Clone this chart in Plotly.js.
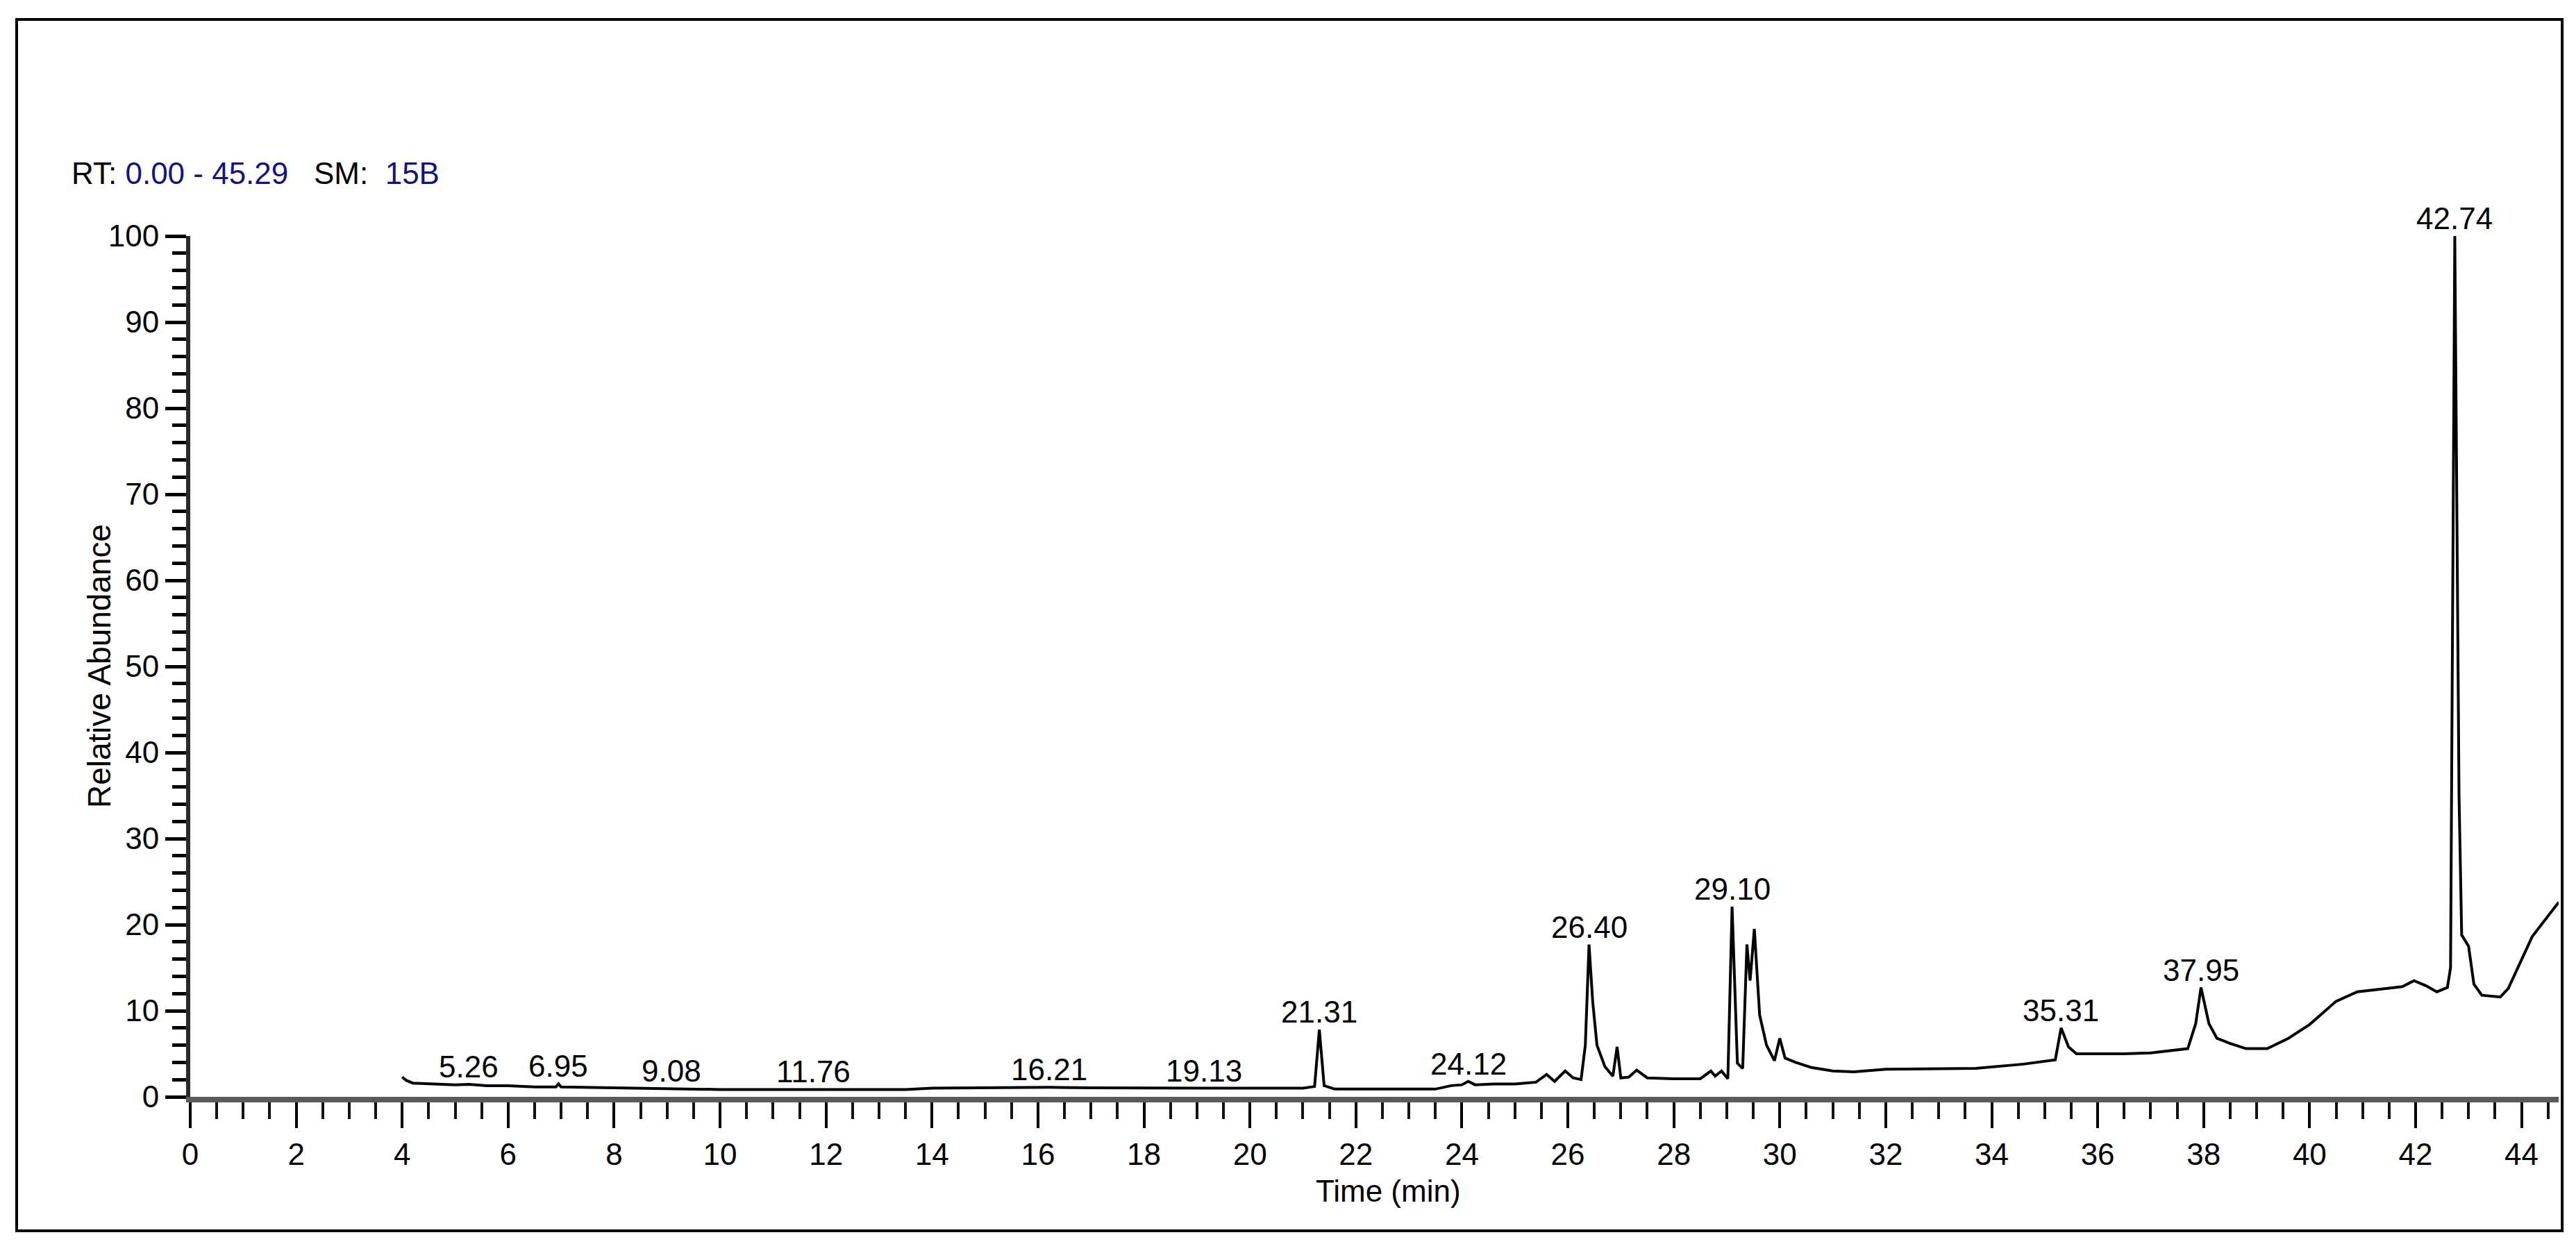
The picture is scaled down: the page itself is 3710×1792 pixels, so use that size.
<!DOCTYPE html>
<html>
<head>
<meta charset="utf-8">
<script src="https://cdn.plot.ly/plotly-3.0.1.min.js"></script>
<style>
  html, body { margin: 0; padding: 0; background: #fff; }
  #plot { width: 3710px; height: 1792px; }
</style>
</head>
<body>
<div id="plot"></div>
<script>
// Chromatogram trace (time in min, relative abundance in %)
let times = [
  4.00, 4.08, 4.20, 4.50, 5.00, 5.26, 5.60, 6.00, 6.50, 6.90, 6.95, 7.00, 7.50, 8.00, 8.50,
  9.08, 9.50, 10.00, 11.00, 11.76, 12.50, 13.50, 14.00, 15.00, 16.21, 17.00, 18.00, 19.13,
  20.00, 21.00, 21.22, 21.31, 21.40, 21.60, 22.50, 23.50, 23.80, 24.00, 24.12, 24.25, 24.60,
  25.00, 25.40, 25.60, 25.75, 25.95, 26.10, 26.25, 26.33, 26.40, 26.47, 26.55, 26.70, 26.85,
  26.93, 27.00, 27.15, 27.30, 27.50, 28.00, 28.50, 28.70, 28.78, 28.90, 29.02, 29.10, 29.20,
  29.30, 29.38, 29.44, 29.52, 29.62, 29.75, 29.90, 30.00, 30.10, 30.30, 30.60, 31.00, 31.40,
  32.00, 33.00, 33.70, 34.60, 35.20, 35.31, 35.45, 35.60, 36.50, 37.00, 37.70, 37.85, 37.95,
  38.10, 38.25, 38.50, 38.80, 39.20, 39.60, 40.00, 40.50, 40.90, 41.40, 41.75, 41.97, 42.20,
  42.40, 42.60, 42.66, 42.74, 42.82, 42.87, 43.00, 43.10, 43.25, 43.60, 43.75, 44.20, 44.70
];
let abundance = [
  2.3, 1.9, 1.6, 1.5, 1.4, 1.45, 1.3, 1.3, 1.15, 1.15, 1.5, 1.15, 1.1, 1.05, 0.95,
  0.95, 0.9, 0.85, 0.85, 0.85, 0.85, 0.85, 1.0, 1.05, 1.1, 1.05, 1.0, 1.0,
  1.0, 1.0, 1.2, 7.8, 1.3, 0.9, 0.9, 0.9, 1.3, 1.4, 1.8, 1.4, 1.5,
  1.5, 1.7, 2.6, 1.8, 3.0, 2.2, 2.0, 6.0, 17.7, 11.0, 6.0, 3.5, 2.4,
  5.8, 2.2, 2.3, 3.1, 2.2, 2.1, 2.1, 3.0, 2.4, 3.0, 2.1, 22.1, 3.9,
  3.3, 17.7, 13.5, 19.5, 9.5, 6.0, 4.2, 6.8, 4.5, 4.0, 3.4, 3.0, 2.9,
  3.2, 3.25, 3.3, 3.8, 4.3, 8.0, 5.8, 5.0, 5.0, 5.1, 5.6, 8.5, 12.7,
  8.5, 6.8, 6.2, 5.6, 5.6, 6.8, 8.4, 11.1, 12.2, 12.6, 12.8, 13.5, 12.9,
  12.2, 12.7, 15.0, 100.0, 35.0, 18.8, 17.5, 13.1, 11.8, 11.6, 12.6, 18.6, 22.6
];

// Labelled peaks
let peakTimes = [5.26, 6.95, 9.08, 11.76, 16.21, 19.13, 21.31, 24.12, 26.40, 29.10, 35.31, 37.95, 42.74];
let peakHeights = [1.45, 1.5, 0.95, 0.85, 1.1, 1.0, 7.8, 1.8, 17.7, 22.1, 8.0, 12.7, 100.0];
let peakLabels = ["5.26", "6.95", "9.08", "11.76", "16.21", "19.13", "21.31", "24.12", "26.40", "29.10", "35.31", "37.95", "42.74"];

// Axis ticks
let xTickVals = [0, 2, 4, 6, 8, 10, 12, 14, 16, 18, 20, 22, 24, 26, 28, 30, 32, 34, 36, 38, 40, 42, 44];
let yTickVals = [0, 10, 20, 30, 40, 50, 60, 70, 80, 90, 100];

let sans = "Liberation Sans, Arial, sans-serif";

let trace = {
  x: times,
  y: abundance,
  type: "scatter",
  mode: "lines",
  line: { color: "#000", width: 4 },
  cliponaxis: false,
  hoverinfo: "x+y"
};

let annotations = peakTimes.map((t, i) => ({
  x: t,
  y: peakHeights[i],
  xref: "x",
  yref: "y",
  text: peakLabels[i],
  showarrow: false,
  xanchor: "center",
  yanchor: "bottom",
  yshift: -1,
  font: { family: sans, size: 44, color: "#000" }
}));

// Header line
annotations.push({
  xref: "paper", yref: "paper",
  x: -0.0507, y: 1.0726,
  xanchor: "left", yanchor: "middle",
  showarrow: false,
  text: "RT:&nbsp;<span style='color:#14147f'>0.00&nbsp;-&nbsp;45.29</span>&nbsp;&nbsp;&nbsp;SM:&nbsp;&nbsp;<span style='color:#14147f'>15B</span>",
  font: { family: sans, size: 44, color: "#000" }
});

// Axis titles
annotations.push({
  xref: "paper", yref: "paper",
  x: -0.0384, y: 0.5,
  xanchor: "center", yanchor: "middle",
  textangle: -90,
  showarrow: false,
  text: "Relative Abundance",
  font: { family: sans, size: 46, color: "#000" }
});
annotations.push({
  xref: "paper", yref: "paper",
  x: 0.506, y: -0.109,
  xanchor: "center", yanchor: "middle",
  showarrow: false,
  text: "Time (min)",
  font: { family: sans, size: 44, color: "#000" }
});

let layout = {
  width: 3710,
  height: 1792,
  margin: { l: 274, r: 25, t: 340, b: 212 },
  paper_bgcolor: "#fff",
  plot_bgcolor: "#fff",
  showlegend: false,
  xaxis: {
    range: [0, 44.7],
    tickvals: xTickVals,
    ticks: "outside",
    ticklen: 37,
    tickwidth: 4,
    tickcolor: "#000",
    minor: { dtick: 0.5, tick0: 0, ticks: "outside", ticklen: 24, tickwidth: 4, tickcolor: "#111" },
    showline: true,
    linecolor: "#5a5a5a",
    linewidth: 8,
    showgrid: false,
    zeroline: false,
    tickfont: { family: sans, size: 44, color: "#000" }
  },
  yaxis: {
    range: [0, 100],
    tickvals: yTickVals,
    ticks: "outside",
    ticklen: 30,
    tickwidth: 5,
    tickcolor: "#000",
    minor: { dtick: 2, tick0: 0, ticks: "outside", ticklen: 20, tickwidth: 5, tickcolor: "#000" },
    showline: true,
    linecolor: "#2a2a2a",
    linewidth: 6,
    showgrid: false,
    zeroline: false,
    tickfont: { family: sans, size: 44, color: "#000" }
  },
  annotations: annotations,
  shapes: [{
    // outer frame around the whole figure
    type: "rect",
    xref: "paper", yref: "paper",
    x0: -0.0733, x1: 1.0015, y0: -0.1556, y1: 1.2516,
    line: { color: "#000", width: 4 },
    fillcolor: "rgba(0,0,0,0)",
    layer: "below"
  }]
};

Plotly.newPlot("plot", [trace], layout, { displayModeBar: false, staticPlot: true });
</script>
</body>
</html>
